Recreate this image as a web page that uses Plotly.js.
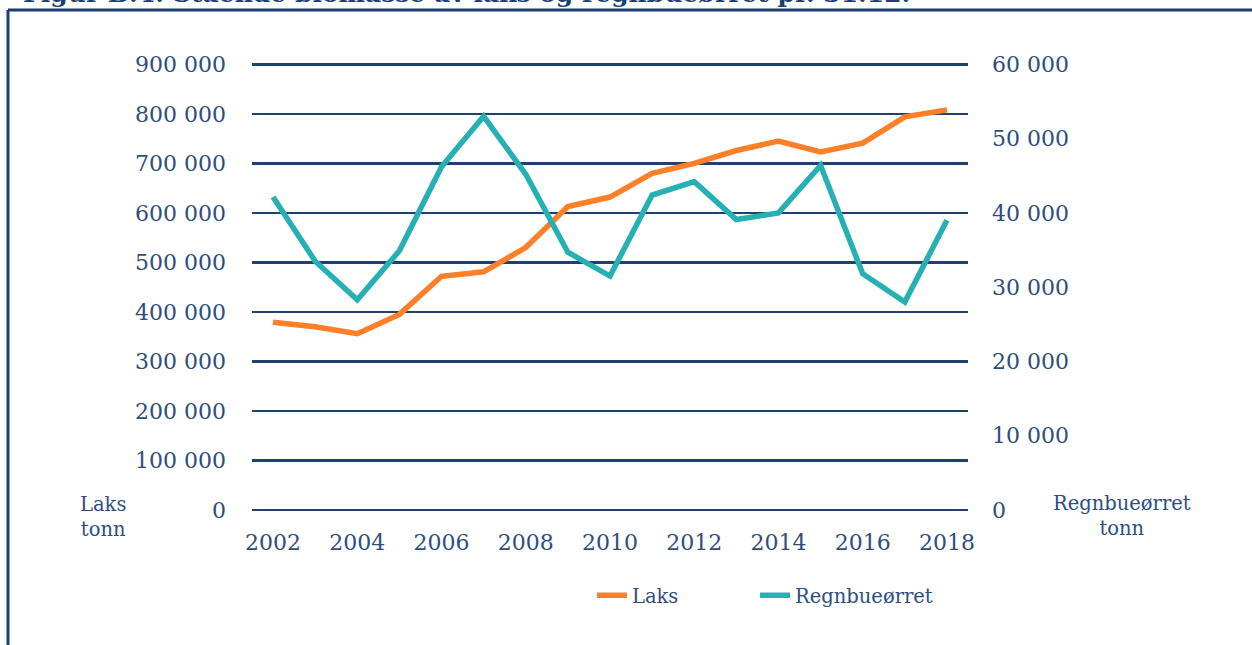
<!DOCTYPE html>
<html>
<head>
<meta charset="utf-8">
<script src="https://cdn.plot.ly/plotly-3.0.1.min.js"></script>
<style>html,body{margin:0;padding:0;background:#fff;}#chart{width:1252px;height:645px;}</style>
</head>
<body>
<div id="chart"></div>
<script>
var years = ["2002","2003","2004","2005","2006","2007","2008","2009","2010","2011","2012","2013","2014","2015","2016","2017","2018"];
var laks = [379000, 370000, 356000, 395000, 472000, 481000, 530000, 613000, 632000, 680000, 700000, 726000, 745000, 723000, 741000, 794000, 808000];
var regnbueorret = [42150, 33500, 28300, 34900, 46200, 53000, 45200, 34700, 31500, 42400, 44200, 39100, 40000, 46400, 31800, 28000, 39000];
var xTicks = ["2002","2004","2006","2008","2010","2012","2014","2016","2018"];
var leftTicks = [0,100000,200000,300000,400000,500000,600000,700000,800000,900000];
var rightTicks = [0,10000,20000,30000,40000,50000,60000];

function fmt(v){ return String(v).replace(/\B(?=(\d{3})+(?!\d))/g, " "); }

var font = "DejaVu Serif";
var txt = "#2e4e7e";
var navy = "#1f4170";
var pad = 1.003;

var traces = [
  {x: years, y: laks, name: "Laks", type: "scatter", mode: "lines",
   line: {color: "#fd7f28", width: 5.5}, yaxis: "y", hoverinfo: "skip", legend: "legend"},
  {x: years, y: regnbueorret, name: "Regnbueørret", type: "scatter", mode: "lines",
   line: {color: "#26b0b4", width: 5.5}, yaxis: "y2", hoverinfo: "skip", legend: "legend2"}
];

var legendBase = {orientation: "h", yanchor: "top", y: -0.148, xanchor: "left",
                  font: {family: font, size: 19.5, color: txt}, itemwidth: 30, bgcolor: "rgba(0,0,0,0)"};

var layout = {
  width: 1252, height: 645,
  margin: {l: 252, r: 284, t: 63, b: 135},
  paper_bgcolor: "#fff", plot_bgcolor: "#fff",
  font: {family: font, color: txt, size: 20},
  showlegend: true,
  legend: Object.assign({}, legendBase, {x: 0.4748}),
  legend2: Object.assign({}, legendBase, {x: 0.7026}),
  xaxis: {type: "category", range: [-0.5, 16.5], tickvals: xTicks, ticktext: xTicks,
          showgrid: false, zeroline: false, showline: false, ticks: "",
          ticklabelstandoff: 17, tickfont: {family: font, size: 22, color: txt}, fixedrange: true},
  yaxis: {range: [0, 900000 * pad], tickvals: leftTicks, ticktext: leftTicks.map(fmt),
          showgrid: true, gridcolor: navy, gridwidth: 2.5,
          zeroline: true, zerolinecolor: navy, zerolinewidth: 2.5, showline: false, ticks: "",
          ticklabelstandoff: 25, tickfont: {family: font, size: 22, color: txt}, fixedrange: true},
  yaxis2: {range: [0, 60000 * pad], overlaying: "y", side: "right", tickvals: rightTicks, ticktext: rightTicks.map(fmt),
           showgrid: false, zeroline: false, showline: false, ticks: "",
           ticklabelstandoff: 23, tickfont: {family: font, size: 22, color: txt}, fixedrange: true},
  shapes: [
    {type: "line", xref: "paper", yref: "paper", x0: -0.3408, x1: 1.40, y0: 1.1188, y1: 1.1188,
     line: {color: "#1b3f6e", width: 3}},
    {type: "line", xref: "paper", yref: "paper", x0: -0.3408, x1: -0.3408, y0: 1.1188, y1: -0.31,
     line: {color: "#1b3f6e", width: 3}}
  ],
  annotations: [
    {text: "<b>Figur B.4: Stående biomasse av laks og regnbueørret pr. 31.12.</b>", xref: "paper", yref: "paper",
     x: -0.321, xanchor: "left", y: 1.1205, yanchor: "bottom", showarrow: false,
     font: {family: font, size: 25, color: "#1b3f6e"}, borderpad: 0},
    {text: "Laks<br>tonn", xref: "paper", yref: "paper", x: -0.2085, xanchor: "center",
     y: -0.016, yanchor: "middle", showarrow: false, font: {family: font, size: 19.5, color: txt}},
    {text: "Regnbueørret<br>tonn", xref: "paper", yref: "paper", x: 1.2151, xanchor: "center",
     y: -0.014, yanchor: "middle", showarrow: false, font: {family: font, size: 19.5, color: txt}}
  ]
};

Plotly.newPlot("chart", traces, layout, {displayModeBar: false, staticPlot: true});
</script>
</body>
</html>
